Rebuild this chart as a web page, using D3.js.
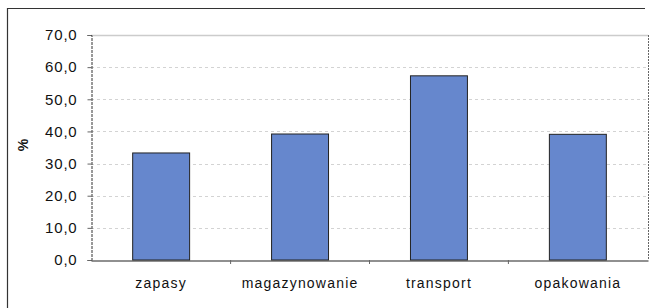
<!DOCTYPE html>
<html><head><meta charset="utf-8">
<script src="https://cdn.jsdelivr.net/npm/d3@7/dist/d3.min.js"></script>
<style>body{margin:0;background:#fff}svg{display:block}</style>
</head><body>
<svg id="c" width="655" height="308"></svg>
<script>
const categories = ["zapasy", "magazynowanie", "transport", "opakowania"];
const values = [33.3, 39.2, 57.3, 39.1];
const yTicks = [0, 10, 20, 30, 40, 50, 60, 70];

const svg = d3.select("#c");
const m = {left: 91, right: 648, top: 35, bottom: 260};

// outer frame
svg.append("line").attr("x1", 7).attr("x2", 645).attr("y1", 8.5).attr("y2", 8.5).attr("stroke", "#333").attr("stroke-width", 1.2);
svg.append("line").attr("x1", 7.5).attr("x2", 7.5).attr("y1", 8).attr("y2", 308).attr("stroke", "#333").attr("stroke-width", 1.2);

const x = d3.scaleBand().domain(categories).range([m.left, m.right]).paddingInner(0.59).paddingOuter(0.3);
const y = d3.scaleLinear().domain([0, 70]).range([m.bottom, m.top]);

// gridlines
svg.append("g").selectAll("line").data(yTicks.filter(t => t > 0 && t < 70)).join("line")
  .attr("x1", m.left).attr("x2", m.right)
  .attr("y1", d => Math.round(y(d)) + 0.5).attr("y2", d => Math.round(y(d)) + 0.5)
  .attr("stroke", "#c8c8c8").attr("stroke-dasharray", "3,3").attr("stroke-width", 0.8);

// plot area border top & right
svg.append("line").attr("x1", m.left).attr("x2", m.right).attr("y1", m.top + 0.5).attr("y2", m.top + 0.5).attr("stroke", "#ccc").attr("stroke-width", 1.5);
svg.append("line").attr("x1", m.right + 0.5).attr("x2", m.right + 0.5).attr("y1", m.top).attr("y2", m.bottom).attr("stroke", "#666").attr("stroke-dasharray", "2,1");

// bars
svg.append("g").selectAll("rect").data(values).join("rect")
  .attr("x", (d, i) => x(categories[i]))
  .attr("width", x.bandwidth())
  .attr("y", d => y(d))
  .attr("height", d => y(0) - y(d))
  .attr("fill", "#6687cd").attr("stroke", "#222").attr("stroke-width", 1);

// y axis
const ya = d3.axisLeft(y).tickValues(yTicks).tickSize(4).tickFormat(d => d.toFixed(1).replace(".", ","));
const gy = svg.append("g").attr("transform", `translate(${m.left + 0.5},0)`).call(ya);
gy.select(".domain").attr("stroke", "#333").attr("stroke-dasharray", "3,1");
gy.selectAll(".tick line").attr("stroke", "#666");
gy.selectAll("text").attr("font-family", "Liberation Sans, Arial, sans-serif").attr("font-size", 15).attr("letter-spacing", "0.8px").attr("fill", "#111").attr("x", -14);

// x axis
const xa = d3.axisBottom(x).tickSize(0).tickPadding(18);
const gx = svg.append("g").attr("transform", `translate(0,${m.bottom + 0.5})`).call(xa);
gx.select(".domain").attr("stroke", "#222").attr("stroke-width", 1.2);
gx.selectAll("text").attr("font-family", "Liberation Sans, Arial, sans-serif").attr("font-size", 14).attr("fill", "#111").attr("letter-spacing", "1.2px");
// category boundary ticks
const bounds = categories.slice(1).map((c) => x(c) - x.step() * x.paddingInner() / 2);
svg.append("g").selectAll("line").data(bounds).join("line")
  .attr("x1", d => d).attr("x2", d => d).attr("y1", m.bottom).attr("y2", m.bottom + 4)
  .attr("stroke", "#666");

// y label
svg.append("text").attr("transform", "translate(28,145) rotate(-90)")
  .attr("text-anchor", "middle").attr("font-family", "Liberation Sans, Arial, sans-serif")
  .attr("font-size", 14).attr("font-weight", "bold").attr("fill", "#111").text("%");
</script>
</body></html>
